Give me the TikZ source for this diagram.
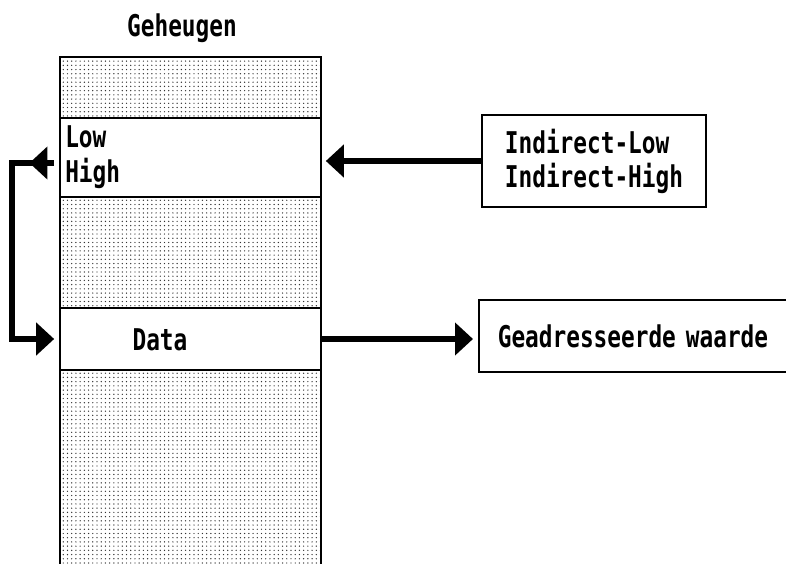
\documentclass[tikz,border=0pt]{standalone}
\usepackage{fontspec}
\newfontfamily\atarifont[FakeStretch=0.76]{DejaVu Sans Mono}
\usetikzlibrary{arrows.meta, patterns, decorations.markings}

\begin{document}
\begin{tikzpicture}[
    cell/.style={draw, line width=1.2pt, minimum width=6.525cm, inner sep=0pt},
    dotcell/.style={cell, pattern=dots, pattern color=black!80},
    txt/.style={font=\atarifont\bfseries\fontsize{21.3pt}{24.2pt}\selectfont, inner sep=0pt},
    valbox/.style={draw, line width=1.2pt, txt},
    ptr/.style={line width=4.2pt, -{Triangle[length=0.45cm, width=0.8cm]}}
]
    \useasboundingbox (0,0) rectangle (19.65,14.075);

    % Memory column
    \node[txt, anchor=base] (title) at (4.55,13.15) {Geheugen};
    \node[dotcell, minimum height=1.525cm] (top) at (4.7625,11.8875) {};
    \node[cell, minimum height=1.975cm] (lh) at (4.7625,10.1375) {};
    \node[dotcell, minimum height=2.775cm] (mid) at (4.7625,7.7625) {};
    \node[cell, minimum height=1.55cm] (data) at (4.7625,5.6) {};
    \node[dotcell, minimum height=5.125cm] (rest) at (4.7625,2.2625) {};
    \node[txt, anchor=base west] (low) at (1.625,10.375) {Low};
    \node[txt, anchor=base west] (high) at (1.625,9.5) {High};
    \node[txt, anchor=base] (datatext) at (4.0,5.325) {Data};

    % Pointer bytes and the value they address
    \node[valbox, align=left, minimum width=5.6cm, minimum height=2.3cm] (ind) at (14.85,10.05) {Indirect-Low\\Indirect-High};
    \node[valbox, anchor=west, inner xsep=0.475cm, text width=7.6cm, align=left, minimum height=1.8cm] (gead) at (11.95,5.675) {Geadresseerde waarde};

    % Arrows
    \draw[ptr, shorten >=0.1cm] (ind.west) -- (ind.west -| lh.east);
    \draw[ptr, shorten >=0.125cm] (data.east) -- (data.east -| gead.west);
    \coordinate (bend) at (0.3,10.0);
    \draw[ptr, shorten <=0.125cm, shorten >=0.125cm,
        postaction={decorate, decoration={markings,
            mark=at position 0.11 with {\arrow{Triangle[length=0.45cm, width=0.8cm]}}}}]
        (lh.west |- bend) -- (bend) |- (data.west);
\end{tikzpicture}
\end{document}
